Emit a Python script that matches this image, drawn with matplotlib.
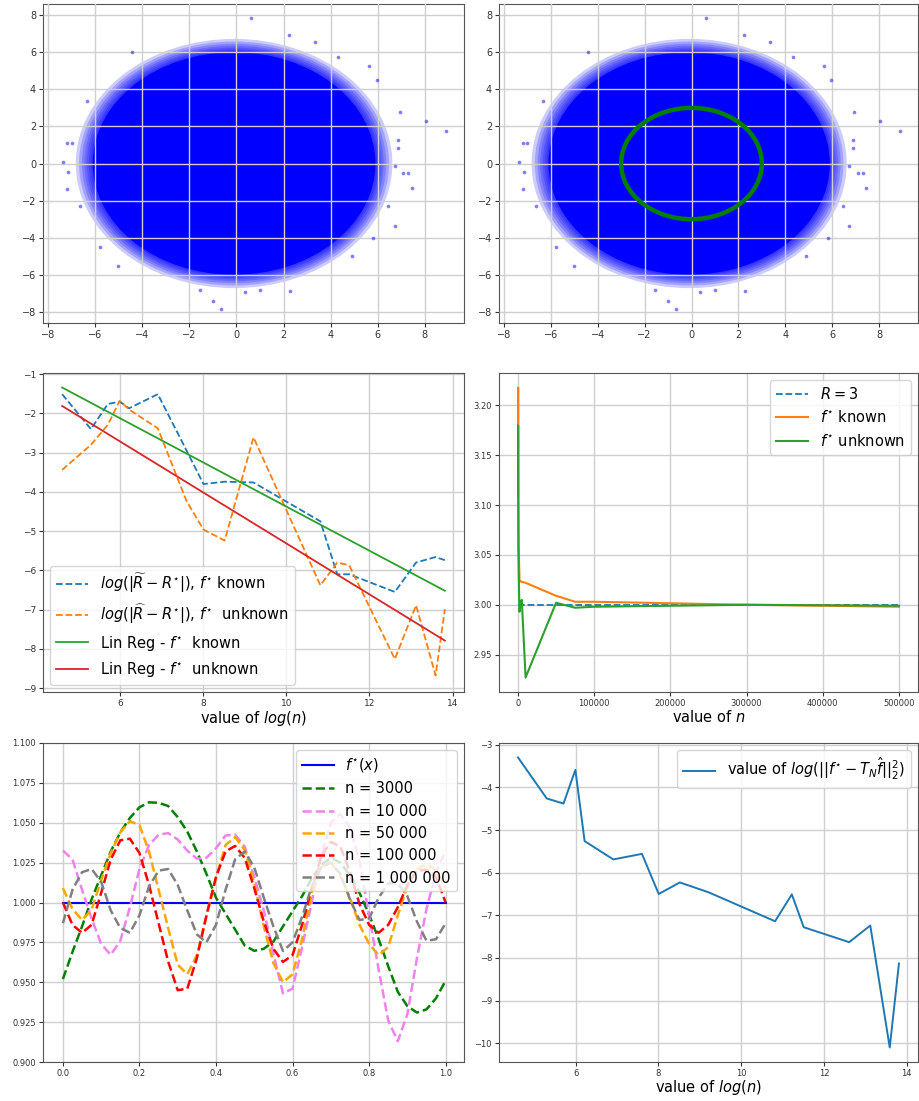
import numpy as np
import matplotlib
matplotlib.use("Agg")
import matplotlib.pyplot as plt
from matplotlib.patches import Circle

# ---------------- data ----------------
# Top row: gaussian cloud (core disc + halo) and isolated outliers
cloud_center = (-0.1, 0.0)
cloud_radius = 6.0
halo_radii = [6.08, 6.16, 6.25, 6.35, 6.46, 6.58, 6.72]
outlier_x = [8.9, 8.03, 7.44, 6.94, 6.73, 7.30, 0.60, -0.66, -7.36, -7.15, -7.18, -7.0,
             -7.18, -6.65, -5.8, 2.27, 3.33, 2.24, 5.64, 5.95, 4.32, -4.43, -6.34, -0.99,
             0.36, 6.87, 6.87, 6.73, 7.08, 6.45, 5.81, -5.03, -1.56, 0.99, 4.89]
outlier_y = [1.76, 2.31, -1.33, 2.80, -3.39, -0.52, 7.82, -7.82, 0.07, -0.47, -1.38, 1.13,
             1.09, -2.31, -4.52, -6.89, 6.57, 6.92, 5.27, 4.50, 5.76, 6.03, 3.35, -7.39,
             -6.92, 1.27, 0.83, -0.16, -0.52, -2.31, -4.02, -5.54, -6.80, -6.80, -5.0]
R_circle = 3.0

# Middle left / bottom right: sample sizes
n_values = [100, 200, 300, 400, 500, 1000, 2000, 3000, 5000, 10000, 50000, 75000,
            100000, 300000, 500000, 800000, 1000000]
err_known = [-1.51, -2.40, -1.76, -1.70, -1.87, -1.51, -2.95, -3.80, -3.74, -3.76,
             -4.75, -6.10, -6.10, -6.55, -5.80, -5.66, -5.74]
err_unknown = [-3.44, -2.80, -2.29, -1.68, -1.90, -2.38, -4.24, -4.96, -5.24, -2.61,
               -6.38, -5.80, -5.87, -8.26, -6.89, -8.68, -6.99]
linreg_known = [-1.34, -6.52]
linreg_unknown = [-1.81, -7.79]

# Middle right: convergence of R estimate
n_conv = [100, 200, 300, 400, 500, 1000, 2000, 3000, 5000, 10000, 50000, 75000,
          100000, 300000, 500000]
R_true = 3
R_known = [3.18, 3.218, 3.19, 3.15, 3.12, 3.06, 3.023, 3.024, 3.023, 3.022, 3.009,
           3.003, 3.003, 3.000, 2.998]
R_unknown = [3.11, 3.18, 3.14, 3.10, 3.06, 3.03, 2.993, 3.000, 3.005, 2.927, 3.002,
             2.997, 2.998, 3.000, 2.999]

# Bottom left: estimated functions on [0, 1]
x_grid = np.linspace(0, 1, 41)
f_star = 1.0
f_3000 = [0.952, 0.969, 0.985, 1.002, 1.017, 1.032, 1.044, 1.053, 1.0597, 1.0628,
          1.0625, 1.0605, 1.0535, 1.0445, 1.032, 1.018, 1.003, 0.993, 0.983, 0.973,
          0.9697, 0.971, 0.9755, 0.985, 0.9945, 1.004, 1.015, 1.0235, 1.028, 1.025,
          1.017, 1.006, 0.9925, 0.977, 0.960, 0.944, 0.935, 0.931, 0.933, 0.940, 0.951]
f_10000 = [1.0326, 1.027, 1.008, 0.990, 0.974, 0.9672, 0.976, 0.997, 1.021, 1.036,
           1.0425, 1.0435, 1.0395, 1.0325, 1.0275, 1.028, 1.034, 1.042, 1.0425, 1.035,
           1.016, 0.995, 0.968, 0.943, 0.946, 0.972, 1.000, 1.029, 1.050, 1.0555,
           1.047, 1.026, 0.992, 0.958, 0.926, 0.913, 0.930, 0.965, 0.996, 1.019, 1.0326]
f_50000 = [1.009, 0.996, 0.989, 0.9955, 1.014, 1.031, 1.044, 1.051, 1.0485, 1.032,
           1.008, 0.984, 0.961, 0.955, 0.967, 0.991, 1.0155, 1.036, 1.041, 1.033,
           1.012, 0.985, 0.962, 0.950, 0.955, 0.977, 1.006, 1.022, 1.025, 1.017,
           1.003, 0.986, 0.974, 0.967, 0.972, 0.992, 1.010, 1.021, 1.024, 1.020, 1.009]
f_100000 = [1.000, 0.986, 0.981, 0.986, 1.006, 1.027, 1.039, 1.040, 1.031, 1.011,
            0.987, 0.963, 0.945, 0.946, 0.965, 0.992, 1.016, 1.032, 1.0355, 1.028,
            1.009, 0.988, 0.971, 0.9627, 0.967, 0.986, 1.009, 1.029, 1.038, 1.035,
            1.019, 0.999, 0.986, 0.981, 0.986, 0.997, 1.011, 1.020, 1.0205, 1.016, 1.000]
f_1000000 = [0.987, 1.008, 1.019, 1.021, 1.013, 0.995, 0.984, 0.981, 0.992, 1.010,
             1.020, 1.021, 1.011, 0.995, 0.980, 0.975, 0.986, 1.008, 1.027, 1.032,
             1.022, 1.003, 0.985, 0.9696, 0.975, 0.991, 1.010, 1.022, 1.025, 1.018,
             1.002, 0.989, 0.990, 1.003, 1.012, 1.012, 1.004, 0.988, 0.976, 0.977, 0.987]
curve_labels = ["n = 3000", "n = 10 000", "n = 50 000", "n = 100 000", "n = 1 000 000"]
curve_colors = ["green", "violet", "orange", "red", "gray"]

# Bottom right
l2_err = [-3.30, -4.26, -4.38, -3.59, -5.26, -5.69, -5.56, -6.50, -6.23, -6.46,
          -7.14, -6.51, -7.28, -7.63, -7.24, -10.10, -8.13]

# ---------------- figure ----------------
W, H = 919, 1101
fig = plt.figure(figsize=(W / 100, H / 100), dpi=100)

def box(l, r, t, b):
    return [l / W, 1 - b / H, (r - l) / W, (b - t) / H]

grid_kw = dict(color="#cfcfcf", linewidth=1.0)
leg_fs = 10.5
lab_fs = 10.5

def style(ax, fs=6.5):
    ax.grid(True, **grid_kw)
    ax.set_axisbelow(True)
    ax.tick_params(labelsize=fs, colors="#333333", length=3, pad=2)
    for s in ax.spines.values():
        s.set_color("#555555")

ax_tl = fig.add_axes(box(43, 464, 4, 323))
ax_tr = fig.add_axes(box(499, 918, 4, 323))
for ax in (ax_tl, ax_tr):
    for r in halo_radii[::-1]:
        ax.add_patch(Circle(cloud_center, r, color="blue", alpha=0.2, lw=0, zorder=2))
    ax.add_patch(Circle(cloud_center, cloud_radius, color="blue", lw=0, zorder=2))
    ax.scatter(outlier_x, outlier_y, s=7, color="blue", alpha=0.5, lw=0, zorder=3)
    ax.set_xlim(-8.21, 9.66)
    ax.set_ylim(-8.6, 8.6)
    ax.set_xticks(np.arange(-8, 9, 2))
    ax.set_yticks(np.arange(-8, 9, 2))
    style(ax, 7)
    ax.grid(True, zorder=4, **grid_kw)
    ax.set_axisbelow(False)
ax_tr.add_patch(Circle((0, 0), R_circle, fill=False, edgecolor="green", lw=3.2, zorder=5))

# Middle left
logn = np.log(n_values)
ax_ml = fig.add_axes(box(43, 464, 373, 692))
ax_ml.plot(logn, err_known, "--", color="tab:blue", lw=1.3,
           label=r"$log(|\widetilde{R}-R^{\star}|)$, $f^{\star}$ known")
ax_ml.plot(logn, err_unknown, "--", color="tab:orange", lw=1.3,
           label=r"$log(|\widehat{R}-R^{\star}|)$, $f^{\star}$  unknown")
ax_ml.plot([logn[0], logn[-1]], linreg_known, color="tab:green", lw=1.3,
           label=r"Lin Reg - $f^{\star}$  known")
ax_ml.plot([logn[0], logn[-1]], linreg_unknown, color="tab:red", lw=1.3,
           label=r"Lin Reg - $f^{\star}$  unknown")
ax_ml.set_ylim(-9.1, -0.97)
ax_ml.set_xlabel(r"value of $log(n)$", fontsize=lab_fs, labelpad=1)
ax_ml.legend(loc="lower left", fontsize=leg_fs, handlelength=2.2)
style(ax_ml)

# Middle right
ax_mr = fig.add_axes(box(499, 918, 373, 692))
ax_mr.plot(n_conv, [R_true] * len(n_conv), "--", color="tab:blue", lw=1.3, label=r"$R = 3$")
ax_mr.plot(n_conv, R_known, color="tab:orange", lw=1.5, label=r"$f^{\star}$ known")
ax_mr.plot(n_conv, R_unknown, color="tab:green", lw=1.5, label=r"$f^{\star}$ unknown")
ax_mr.set_xticks([0, 100000, 200000, 300000, 400000, 500000])
ax_mr.set_xlabel(r"value of $n$", fontsize=lab_fs, labelpad=1)
ax_mr.legend(loc="upper right", fontsize=leg_fs, handlelength=2.2)
style(ax_mr, 6)

# Bottom left
ax_bl = fig.add_axes(box(43, 464, 743, 1062))
ax_bl.plot(x_grid, [f_star] * len(x_grid), color="blue", lw=1.5, label=r"$f^{\star}(x)$")
for ys, lab, c in zip([f_3000, f_10000, f_50000, f_100000, f_1000000], curve_labels, curve_colors):
    ax_bl.plot(x_grid, ys, "--", color=c, lw=1.8, label=lab)
ax_bl.set_ylim(0.9, 1.1)
ax_bl.set_xlim(-0.052, 1.048)
ax_bl.legend(loc="upper right", fontsize=leg_fs, handlelength=2.2)
style(ax_bl, 6)

# Bottom right
ax_br = fig.add_axes(box(499, 918, 743, 1062))
ax_br.plot(logn, l2_err, color="tab:blue", lw=1.4,
           label=r"value of $log(||f^{\star} - T_N\hat{f}||_2^2)$")
ax_br.set_xlabel(r"value of $log(n)$", fontsize=lab_fs, labelpad=0)
ax_br.legend(loc="upper right", fontsize=leg_fs, handlelength=2.2)
style(ax_br, 6)

fig.savefig("out.png", dpi=100)
